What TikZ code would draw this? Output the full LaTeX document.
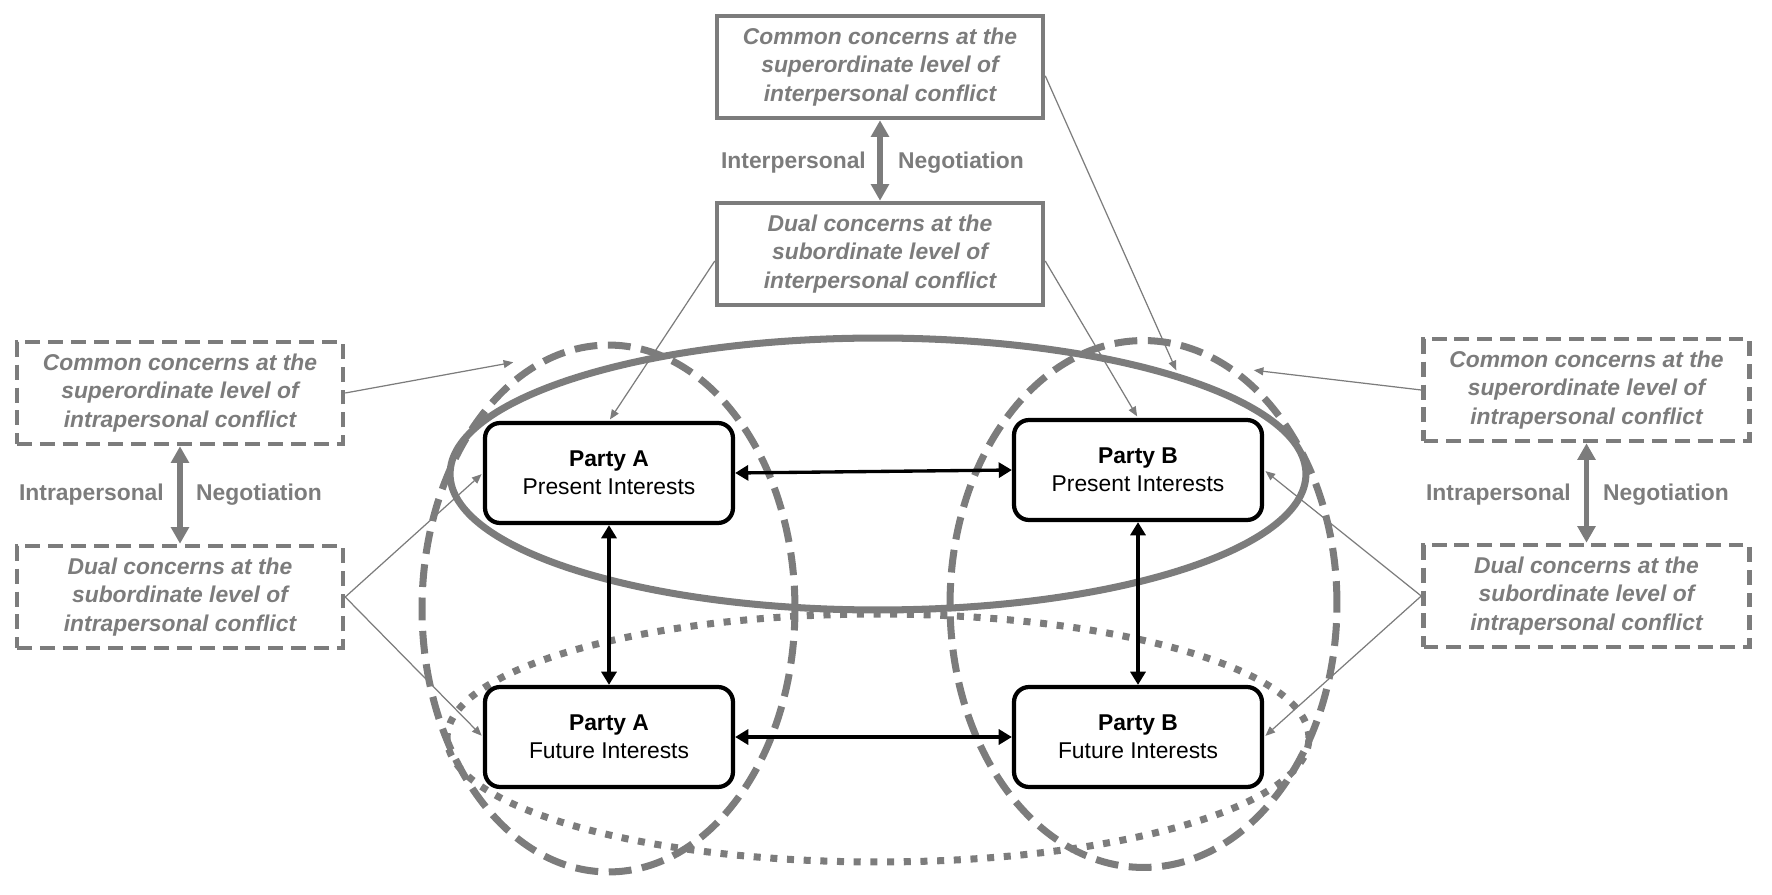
\documentclass[tikz,border=0pt]{standalone}
\usepackage{fontspec}
\setmainfont{Liberation Sans}
\usetikzlibrary{arrows.meta}
\definecolor{midgray}{RGB}{124,124,124}
\tikzset{
  concern/.style={draw=midgray, line width=2.6pt, text=midgray, align=center,
    font=\fontsize{13pt}{16pt}\selectfont\bfseries\itshape,
    minimum width=6.52cm, minimum height=2.04cm, inner sep=0pt},
  concerndash/.style={concern, dash pattern=on 8.5pt off 4.5pt},
  party/.style={draw, line width=2.4pt, rounded corners=0.3cm, fill=white, align=center,
    font=\fontsize{13pt}{16pt}\selectfont, minimum width=4.96cm, minimum height=2cm},
  neglabel/.style={text=midgray, font=\fontsize{13pt}{16pt}\selectfont\bfseries},
  negot/.style={midgray, line width=3pt,
    {Triangle[length=9.5pt,width=10pt]}-{Triangle[length=9.5pt,width=10pt]}},
  pair/.style={line width=1.9pt,
    {Triangle[length=7.5pt,width=8.5pt]}-{Triangle[length=7.5pt,width=8.5pt]}},
  link/.style={midgray, line width=0.7pt, shorten >=1pt,
    -{Triangle[length=5.5pt,width=4.5pt]}},
  ring/.style={midgray, line width=4pt}
}
\begin{document}
\begin{tikzpicture}[x=0.02cm, y=-0.02cm]
\useasboundingbox (0,0) rectangle (1772,895);

% ellipses
\draw [ring, dash pattern=on 13pt off 6pt] (608.5,608.5) ellipse [x radius=3.73cm, y radius=5.27cm];
\draw [ring, dash pattern=on 13pt off 6pt] (1143.5,604) ellipse [x radius=3.87cm, y radius=5.27cm];
\draw [ring] (878,474) ellipse [x radius=8.56cm, y radius=2.72cm];
\draw [ring, dash pattern=on 4pt off 5.5pt] (878,738) ellipse [x radius=8.62cm, y radius=2.48cm];

% parties
\node [party] (pa) at (609,473) {\textbf{Party A}\\Present Interests};
\node [party] (pb) at (1138,470) {\textbf{Party B}\\Present Interests};
\node [party] (pfa) at (609,737) {\textbf{Party A}\\Future Interests};
\node [party] (pfb) at (1138,737) {\textbf{Party B}\\Future Interests};

\draw [pair] (pa.east) -- (pb.west);
\draw [pair] (pfa.east) -- (pfb.west);
\draw [pair] (pa.south) -- (pfa.north);
\draw [pair] (pb.south) -- (pfb.north);

% interpersonal level
\node [concern] (tsup) at (880,67) {Common concerns at the\\superordinate level of\\interpersonal conflict};
\node [concern] (tsub) at (880,254) {Dual concerns at the\\subordinate level of\\interpersonal conflict};
\draw [negot] (tsup.south) -- (tsub.north);
\node [neglabel, anchor=east] (tl1) at (872,163) {Interpersonal};
\node [neglabel, anchor=west] (tl2) at (892,163) {Negotiation};

% intrapersonal level, left
\node [concerndash] (lsup) at (180,393) {Common concerns at the\\superordinate level of\\intrapersonal conflict};
\node [concerndash] (lsub) at (180,597) {Dual concerns at the\\subordinate level of\\intrapersonal conflict};
\draw [negot] (lsup.south) -- (lsub.north);
\node [neglabel, anchor=east] (ll1) at (170,495) {Intrapersonal};
\node [neglabel, anchor=west] (ll2) at (190,495) {Negotiation};

% intrapersonal level, right
\node [concerndash] (rsup) at (1586.5,390) {Common concerns at the\\superordinate level of\\intrapersonal conflict};
\node [concerndash] (rsub) at (1586.5,596) {Dual concerns at the\\subordinate level of\\intrapersonal conflict};
\draw [negot] (rsup.south) -- (rsub.north);
\node [neglabel, anchor=east] (rl1) at (1577,495) {Intrapersonal};
\node [neglabel, anchor=west] (rl2) at (1597,495) {Negotiation};

% thin links
\coordinate (ringtop) at (1177,372);
\coordinate (leftend) at (515,362);
\coordinate (rightend) at (1252,370);
\draw [link] ([yshift=-5pt]tsup.east) -- (ringtop);
\draw [link] ([yshift=-4pt]tsub.west) -- (pa.north);
\draw [link] ([yshift=-4pt]tsub.east) -- (pb.north);
\draw [link] (lsup.east) -- (leftend);
\draw [link] (lsub.east) -- (pa.west);
\draw [link] (lsub.east) -- (pfa.west);
\draw [link] (rsup.west) -- (rightend);
\draw [link] (rsub.west) -- (pb.east);
\draw [link] (rsub.west) -- (pfb.east);

\end{tikzpicture}
\end{document}
